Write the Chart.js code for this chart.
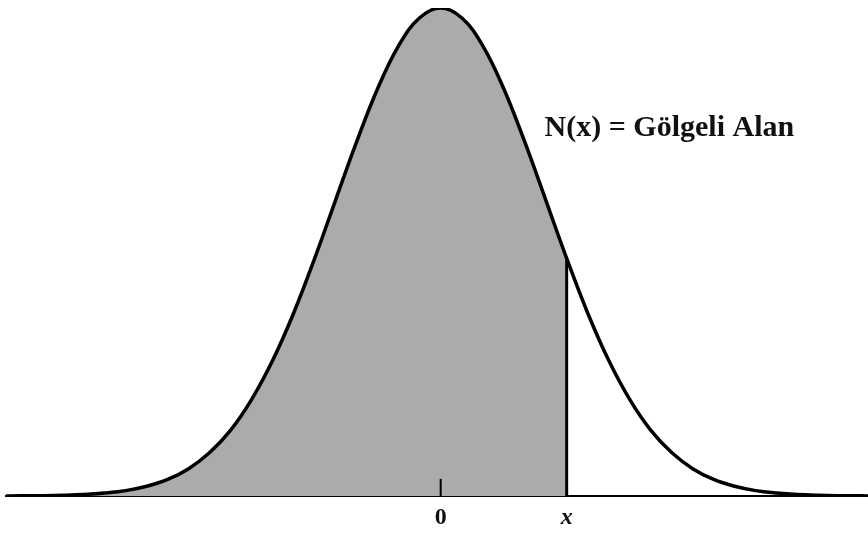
<!DOCTYPE html>
<html>
<head>
<meta charset="utf-8">
<script src="https://cdn.jsdelivr.net/npm/chart.js@4"></script>
<style>
  html, body { margin: 0; padding: 0; background: #fff; }
  #wrap { width: 868px; height: 533px; }
</style>
</head>
<body>
<div id="wrap"><canvas id="normalChart"></canvas></div>
<script>
// z positions (in standard deviations) and curve height (% of the peak)
var zValues = [-4.2, -4.0, -3.8, -3.6, -3.4, -3.2, -3.0, -2.8, -2.6, -2.4, -2.2, -2.0, -1.8, -1.6, -1.4, -1.2, -1.0, -0.8, -0.6, -0.4, -0.2,
               0.0, 0.2, 0.4, 0.6, 0.8, 1.0, 1.2, 1.4, 1.6, 1.8, 2.0, 2.2, 2.4, 2.6, 2.8, 3.0, 3.2, 3.4, 3.6, 3.8, 4.0, 4.2];
var heights = [0, 0.03, 0.07, 0.15, 0.3, 0.6, 1.1, 2.0, 3.4, 5.6, 8.9, 13.5, 19.8, 27.8, 37.5, 48.7, 60.7, 72.6, 83.5, 92.3, 98.0,
               100, 98.0, 92.3, 83.5, 72.6, 60.7, 48.7, 37.5, 27.8, 19.8, 13.5, 8.9, 5.6, 3.4, 2.0, 1.1, 0.6, 0.3, 0.15, 0.07, 0.03, 0];

// the shaded area runs up to x
var cutZ = 1.2;
var cutHeight = 48.7;

var tickValues = [0, cutZ];
var tickLabels = ['0', 'x'];

var areaLabel = 'N(x) = Gölgeli Alan';

var curvePoints = zValues.map(function (z, i) { return { x: z, y: heights[i] }; });
var shadedPoints = curvePoints.filter(function (p) { return p.x <= cutZ; });

var labelPlugin = {
    id: 'areaLabel',
    afterDatasetsDraw: function (chart) {
        var ctx = chart.ctx;
        var xs = chart.scales.x, ys = chart.scales.y;
        ctx.save();
        ctx.fillStyle = '#111';
        ctx.font = 'bold 30px "Liberation Serif", "DejaVu Serif", serif';
        ctx.textBaseline = 'middle';
        ctx.textAlign = 'left';
        ctx.fillText(areaLabel, xs.getPixelForValue(0.99), ys.getPixelForValue(75.4));
        ctx.restore();
    }
};

var ctx = document.getElementById('normalChart').getContext('2d');
var normalChart = new Chart(ctx, {
    type: 'line',
    data: {
        datasets: [{
            // gray area under the curve
            data: shadedPoints,
            borderWidth: 0,
            backgroundColor: '#ababab',
            fill: 'origin',
            pointRadius: 0,
            tension: 0.4,
            order: 3
        }, {
            // the bell curve
            data: curvePoints,
            borderColor: '#000',
            borderWidth: 3.5,
            fill: false,
            pointRadius: 0,
            tension: 0.4,
            order: 1
        }, {
            // vertical line at x
            data: [{ x: cutZ, y: 0 }, { x: cutZ, y: cutHeight }],
            borderColor: '#000',
            borderWidth: 3,
            pointRadius: 0,
            order: 2
        }, {
            // small tick at 0
            data: [{ x: 0, y: 0 }, { x: 0, y: 3.5 }],
            borderColor: '#000',
            borderWidth: 2,
            pointRadius: 0,
            order: 2
        }]
    },
    options: {
        responsive: true,
        maintainAspectRatio: false,
        animation: false,
        layout: { padding: { left: 6, right: 0, top: 8, bottom: 0 } },
        plugins: {
            legend: { display: false },
            tooltip: { enabled: false }
        },
        scales: {
            x: {
                type: 'linear',
                min: -4.14,
                max: 4.07,
                afterBuildTicks: function (scale) {
                    scale.ticks = tickValues.map(function (v) { return { value: v }; });
                },
                afterFit: function (scale) {
                    scale.height = 37;
                },
                grid: { drawOnChartArea: false, drawTicks: false },
                border: { display: true, color: '#000', width: 2 },
                ticks: {
                    padding: 7,
                    color: '#111',
                    maxRotation: 0,
                    autoSkip: false,
                    font: function (c) {
                        if (c.index === 1) {
                            return { family: '"Liberation Serif", serif', size: 24, style: 'italic', weight: 'bold' };
                        }
                        return { family: '"Liberation Serif", serif', size: 24, weight: 'bold' };
                    },
                    callback: function (value, index) { return tickLabels[index]; }
                }
            },
            y: {
                display: false,
                min: 0,
                max: 100
            }
        }
    },
    plugins: [labelPlugin]
});
</script>
</body>
</html>
